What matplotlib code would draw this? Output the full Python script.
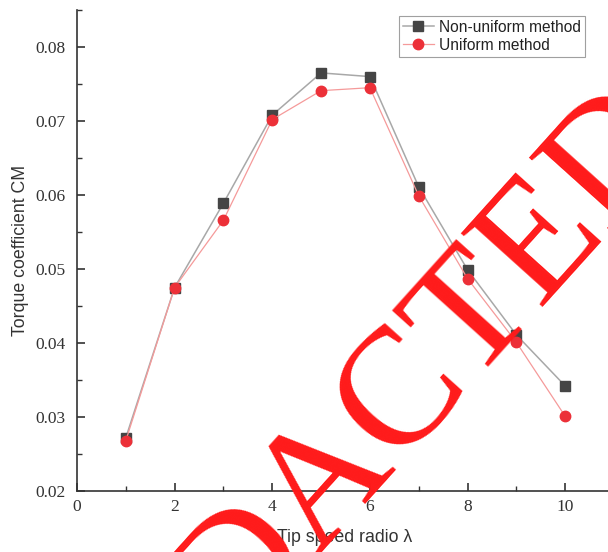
import matplotlib
matplotlib.use("Agg")
import matplotlib.pyplot as plt
from matplotlib.ticker import MultipleLocator

tsr = [1, 2, 3, 4, 5, 6, 7, 8, 9, 10]
non_uniform = [0.0272, 0.0475, 0.0589, 0.0708, 0.0765, 0.0760, 0.0611, 0.0499, 0.0411, 0.0342]
uniform = [0.0268, 0.0475, 0.0566, 0.0702, 0.0741, 0.0745, 0.0599, 0.0487, 0.0401, 0.0301]
xticks = [0, 2, 4, 6, 8, 10]
yticks = [0.02, 0.03, 0.04, 0.05, 0.06, 0.07, 0.08]

fig = plt.figure(figsize=(6.08, 5.52), dpi=100)
ax = fig.add_axes([77/608, 1-491/552, (614-77)/608, (491-10)/552])

ax.plot(tsr, non_uniform, color="#a8a8a8", lw=1.1, marker="s", ms=6.5,
        mfc="#454545", mec="#454545", label="Non-uniform method", zorder=3)
ax.plot(tsr, uniform, color="#f59a9a", lw=0.9, marker="o", ms=7.5,
        mfc="#ec3038", mec="#ec3038", label="Uniform method", zorder=4)

ax.set_xlim(0, 11)
ax.set_ylim(0.02, 0.085)
ax.set_xticks(xticks)
ax.set_xticklabels([str(v) for v in xticks])
ax.set_yticks(yticks)
ax.set_yticklabels([f"{v:.2f}" for v in yticks])
ax.xaxis.set_minor_locator(MultipleLocator(1))
ax.yaxis.set_minor_locator(MultipleLocator(0.005))

for s in ["top", "right"]:
    ax.spines[s].set_visible(False)
for s in ["left", "bottom"]:
    ax.spines[s].set_linewidth(1.2)
    ax.spines[s].set_color("#333333")

ax.tick_params(which="major", direction="in", length=6, width=1.2, color="#333333",
               labelsize=12.5, labelcolor="#333333")
ax.tick_params(which="minor", direction="in", length=3.5, width=1.0, color="#333333")
ax.tick_params(axis="y", which="major", pad=8)
ax.tick_params(axis="x", which="major", pad=6)
for lab in ax.get_xticklabels() + ax.get_yticklabels():
    lab.set_family("Liberation Serif")

ax.set_xlabel("Tip speed radio λ", family="Liberation Sans", fontsize=12.8, color="#333333")
ax.xaxis.set_label_coords((345-77)/(614-77), -(529-491)/481)
ax.set_ylabel("Torque coefficient CM", family="Liberation Sans", fontsize=12.8, color="#333333")
ax.yaxis.set_label_coords(-(77-29)/537, (491-250)/481)

leg = ax.legend(loc="upper left", bbox_to_anchor=((399-77)/537, (491-16)/481),
                frameon=True, fancybox=False, edgecolor="#888888",
                prop={"family": "Liberation Sans", "size": 11.2},
                handlelength=2.0, borderpad=0.25, labelspacing=0.18,
                handletextpad=0.35, borderaxespad=0)
leg.get_frame().set_linewidth(0.8)
for t in leg.get_texts():
    t.set_color("#222222")

fig.text(360/608, 1-445/552, "REDACTED", family="Liberation Serif", fontsize=120,
         color="#ff1a1a", rotation=48, rotation_mode="anchor",
         ha="center", va="center", zorder=10)

fig.savefig("out.png", dpi=100)
